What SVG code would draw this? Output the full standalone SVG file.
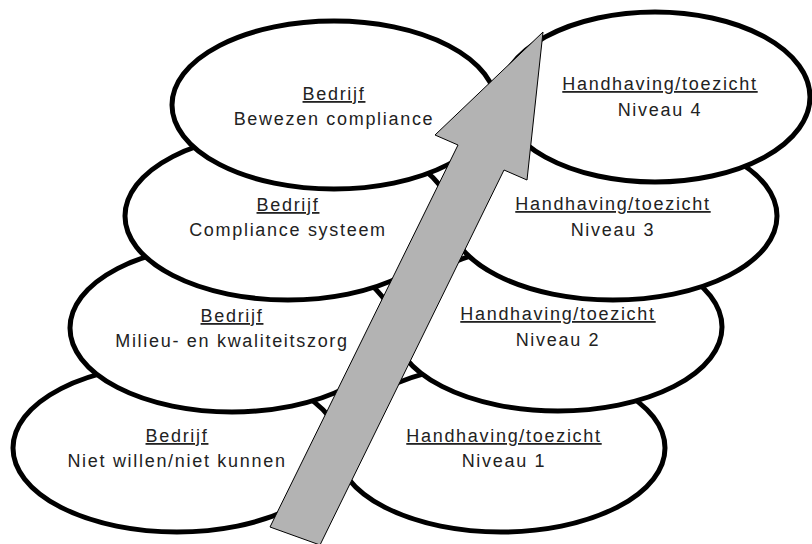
<svg xmlns="http://www.w3.org/2000/svg" width="812" height="544" viewBox="0 0 812 544">
<style>
.node ellipse{fill:#fff;stroke:#000;stroke-width:5}
.node text{font-family:"Liberation Sans",Arial,sans-serif;font-size:18px;letter-spacing:1.7px;fill:#222;text-anchor:middle}
.node text.h{text-decoration:underline}
.arrow{fill:#b3b3b3;stroke:#000;stroke-width:1;stroke-linejoin:miter}
</style>
<rect x="0" y="0" width="812" height="544" fill="#fff"/>
<g id="bedrijf-1" class="node">
<ellipse cx="177" cy="448" rx="164" ry="84"/>
<text class="h" x="177" y="442">Bedrijf</text>
<text x="177" y="467">Niet willen/niet kunnen</text>
</g>
<g id="toezicht-1" class="node">
<ellipse cx="501" cy="448" rx="164" ry="84"/>
<text class="h" x="504" y="442">Handhaving/toezicht</text>
<text x="504" y="467">Niveau 1</text>
</g>
<g id="bedrijf-2" class="node">
<ellipse cx="232" cy="328" rx="162" ry="84"/>
<text class="h" x="232" y="322">Bedrijf</text>
<text x="232" y="347">Milieu- en kwaliteitszorg</text>
</g>
<g id="toezicht-2" class="node">
<ellipse cx="558" cy="327" rx="164" ry="84"/>
<text class="h" x="558" y="320">Handhaving/toezicht</text>
<text x="558" y="346">Niveau 2</text>
</g>
<g id="bedrijf-3" class="node">
<ellipse cx="288" cy="216" rx="163" ry="84"/>
<text class="h" x="288" y="211">Bedrijf</text>
<text x="288" y="236">Compliance systeem</text>
</g>
<g id="toezicht-3" class="node">
<ellipse cx="613" cy="216" rx="164" ry="84"/>
<text class="h" x="613" y="210">Handhaving/toezicht</text>
<text x="613" y="236">Niveau 3</text>
</g>
<g id="bedrijf-4" class="node">
<ellipse cx="334" cy="105" rx="162" ry="84"/>
<text class="h" x="334" y="100">Bedrijf</text>
<text x="334" y="125">Bewezen compliance</text>
</g>
<g id="toezicht-4" class="node">
<ellipse cx="655" cy="97" rx="155" ry="85"/>
<text class="h" x="660" y="90">Handhaving/toezicht</text>
<text x="660" y="116">Niveau 4</text>
</g>
<g id="connectors">
<polygon class="arrow" points="543,32 527,180 504,170 320,545 270,527 458,145 435,135"/>
</g>
</svg>
